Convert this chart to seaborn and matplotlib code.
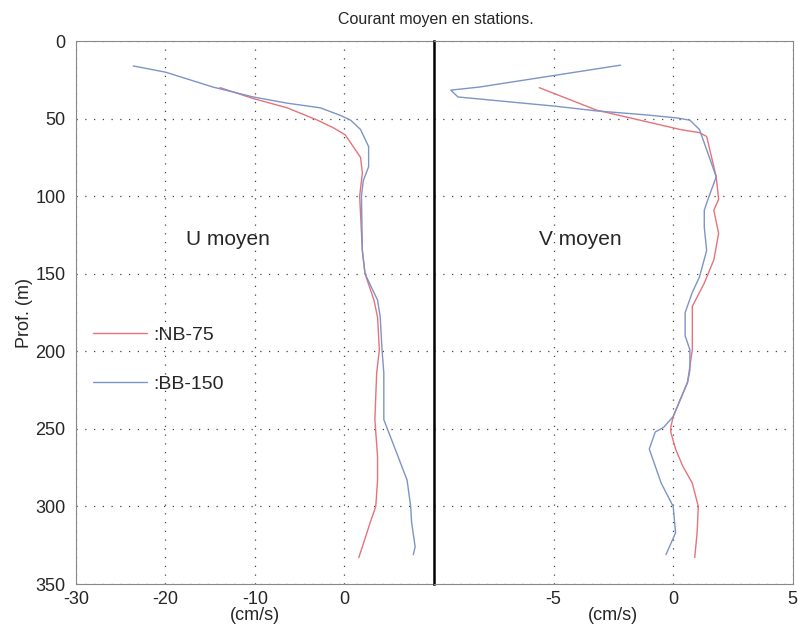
import matplotlib
matplotlib.use("Agg")
import matplotlib.pyplot as plt
import seaborn as sns

# profondeurs (m) et vitesses moyennes (cm/s)
depth_u_nb = [30, 37, 43, 51, 56, 60.5, 75, 85, 100, 135, 150, 167, 178, 199, 214, 244, 268, 283, 300, 310, 326, 333]
u_nb = [-13.9, -10.2, -6.4, -3.0, -1.2, 0.1, 1.8, 2.0, 1.7, 2.0, 2.3, 3.3, 3.7, 3.9, 3.6, 3.4, 3.7, 3.7, 3.5, 2.9, 2.0, 1.6]

depth_u_bb = [16, 20, 29.6, 36, 40, 43, 48, 51, 57, 68, 81, 90, 100, 135, 150, 167, 178, 199, 214, 244, 250, 268, 283, 300, 310, 326, 331]
u_bb = [-23.6, -20, -14.7, -10.2, -6.4, -2.7, -0.4, 0.7, 1.8, 2.7, 2.7, 2.1, 1.9, 2.0, 2.3, 3.7, 4.0, 4.2, 4.4, 4.4, 4.8, 6.0, 7.0, 7.4, 7.5, 7.9, 7.7]

depth_v_nb = [30, 44.5, 49.5, 57, 59, 61.5, 87.5, 102, 109, 124, 141, 156, 171, 180, 199, 220, 231, 242, 249, 252, 263, 274, 285, 300, 317, 333]
v_nb = [-5.6, -3.2, -1.8, 0.3, 1.1, 1.4, 1.8, 1.9, 1.7, 1.9, 1.7, 1.3, 0.8, 0.8, 0.8, 0.6, 0.3, 0.0, -0.1, -0.1, 0.1, 0.4, 0.8, 1.05, 1.0, 0.9]

depth_v_bb = [15.5, 29.6, 31.6, 36, 42, 45, 47.6, 49.6, 51, 57, 87.5, 100, 109, 120, 135, 152, 162, 175, 190, 199, 212, 220, 231, 242, 249, 252, 263, 274, 285, 300, 317, 331]
v_bb = [-2.2, -8.1, -9.3, -9.0, -4.9, -3.2, -1.1, 0.2, 0.7, 1.1, 1.8, 1.5, 1.3, 1.3, 1.4, 1.1, 0.8, 0.5, 0.5, 0.7, 0.7, 0.6, 0.3, 0.0, -0.4, -0.75, -1.0, -0.75, -0.5, 0.0, 0.1, -0.3]

red = '#e5737a'
blue = '#7d94c6'

sns.set_style('white')
plt.rcParams['font.family'] = ['Liberation Sans', 'DejaVu Sans']
plt.rcParams['axes.unicode_minus'] = False

fig = plt.figure(figsize=(7.99, 6.24), dpi=100)
ax1 = fig.add_axes([0.0951, 0.0641, 0.448, 0.870])
ax2 = fig.add_axes([0.5432, 0.0641, 0.449, 0.870])

grid_kw = dict(color='#444444', linestyle=(0, (1, 6)), linewidth=0.9)

sns.lineplot(x=u_nb, y=depth_u_nb, sort=False, estimator=None, color=red, lw=1, ax=ax1, label=':NB-75')
sns.lineplot(x=u_bb, y=depth_u_bb, sort=False, estimator=None, color=blue, lw=1, ax=ax1, label=':BB-150')
sns.lineplot(x=v_nb, y=depth_v_nb, sort=False, estimator=None, color=red, lw=1, ax=ax2)
sns.lineplot(x=v_bb, y=depth_v_bb, sort=False, estimator=None, color=blue, lw=1, ax=ax2)

for ax in (ax1, ax2):
    ax.set_ylim(350, 0)
    ax.set_yticks(range(0, 351, 50))
    ax.grid(True, **grid_kw)
    for s in ax.spines.values():
        s.set_color('#888888')
        s.set_linewidth(0.8)
    ax.tick_params(labelsize=13, length=4, color='#333333')
    ax.set_xlabel('(cm/s)', fontsize=13, labelpad=-1)

ax1.set_xlim(-30, 10)
ax1.set_xticks([-30, -20, -10, 0, 10])
ax1.set_xticklabels(['-30', '-20', '-10', '0', ''])
ax1.set_ylabel('Prof. (m)', fontsize=13, labelpad=2)
ax1.tick_params(axis='x', pad=1)

ax2.set_xlim(-10, 5)
ax2.set_xticks([-5, 0, 5])
ax2.set_yticklabels([])
ax2.set_ylabel('')
ax2.tick_params(axis='x', pad=1)
ax2.tick_params(axis='y', direction='inout', length=10, width=1.2, color='black')
ax2.spines['left'].set_color('black')
ax2.spines['left'].set_linewidth(1.8)

ax1.text(-13, 128, 'U moyen', fontsize=15, ha='center', va='center')
ax2.text(-3.9, 128, 'V moyen', fontsize=15, ha='center', va='center')

ax1.legend(loc='upper left', bbox_to_anchor=(0.047, 0.474), frameon=False, fontsize=14,
           handlelength=2.8, handletextpad=0.3, labelspacing=1.6, borderpad=0, borderaxespad=0)

fig.text(0.545, 0.968, 'Courant moyen en stations.', fontsize=11.5, ha='center', va='center')

fig.savefig('out.png', dpi=100)
